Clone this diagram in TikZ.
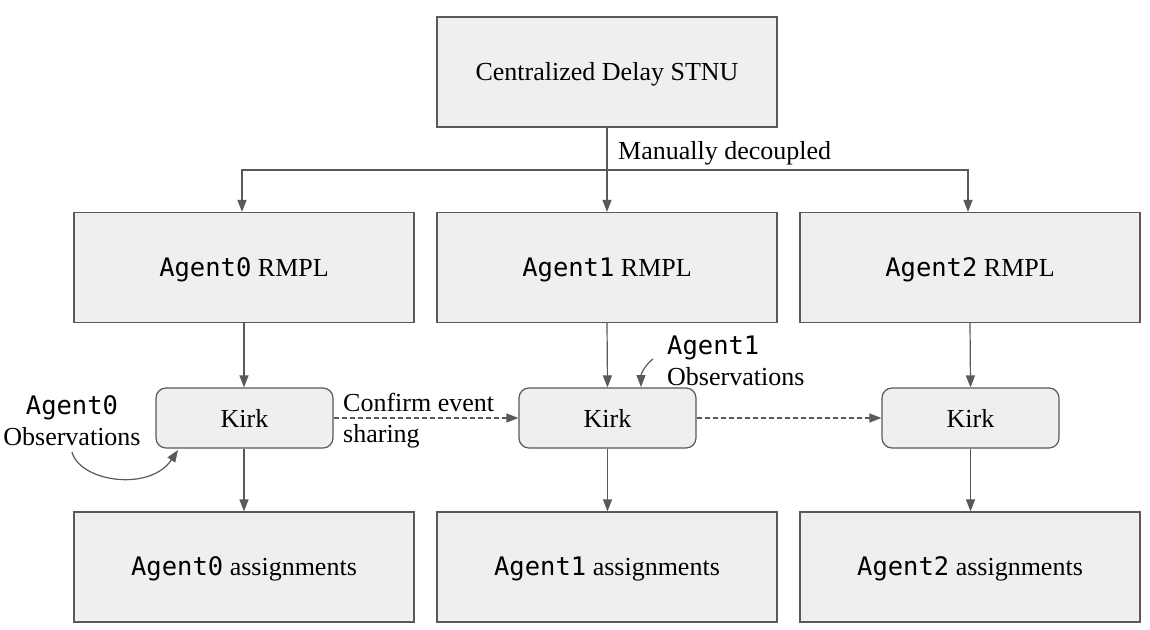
\documentclass[tikz,border=0pt]{standalone}
\usepackage{fontspec}
\setmainfont{Liberation Serif}
\setmonofont{DejaVu Sans Mono}
\usetikzlibrary{arrows.meta}
\definecolor{boxfill}{HTML}{EFEFEF}
\definecolor{linegray}{HTML}{595959}
\newcommand{\mono}[1]{{\fontsize{25.5}{31}\selectfont\ttfamily #1}}
\tikzset{
  bigbox/.style={draw=linegray, fill=boxfill, line width=1.2pt, minimum width=340pt, minimum height=110pt, inner sep=0pt, text height=21pt, text depth=4pt},
  kirkbox/.style={draw=linegray, fill=boxfill, line width=1.2pt, rounded corners=10pt, minimum width=177pt, minimum height=60pt, inner sep=0pt},
  conn/.style={draw=linegray, line width=1.2pt, -{Triangle[length=12pt,width=9pt]}},
  plainconn/.style={draw=linegray, line width=1.2pt},
  dashconn/.style={conn, dash pattern=on 5pt off 3pt},
  lbl/.style={inner sep=0pt, font=\fontsize{26}{31}\selectfont}
}
\begin{document}
\begin{tikzpicture}[x=1pt,y=-1pt, font=\fontsize{26}{31}\selectfont]
\useasboundingbox (0,0) rectangle (1150,629);
\fill[white] (0,0) rectangle (1150,629);
% boxes
\node[bigbox] (top) at (607,72) {Centralized Delay STNU};
\node[bigbox] (r0) at (244,267.5) {\mono{Agent0} RMPL};
\node[bigbox] (r1) at (607,267.5) {\mono{Agent1} RMPL};
\node[bigbox] (r2) at (970,267.5) {\mono{Agent2} RMPL};
\node[kirkbox] (k0) at (244.5,418) {Kirk};
\node[kirkbox] (k1) at (607.5,418) {Kirk};
\node[kirkbox] (k2) at (970.5,418) {Kirk};
\node[bigbox] (a0) at (244,567) {\mono{Agent0} assignments};
\node[bigbox] (a1) at (607,567) {\mono{Agent1} assignments};
\node[bigbox] (a2) at (970,567) {\mono{Agent2} assignments};
% decoupling
\coordinate (j) at (607,170);
\draw[plainconn] (top.south) -- (j);
\draw[conn] (j) -- (r1.north);
\draw[conn] (j) -| ([xshift=-2pt]r0.north);
\draw[conn] (j) -| ([xshift=-2pt]r2.north);
\node[lbl, anchor=west] (md) at (618,153) {Manually decoupled};
% rmpl -> kirk
\draw[conn] (r0.south) -- (k0.north -| r0.south);
\draw[conn] (r1.south) -- (k1.north);
\draw[conn] (r2.south) -- (k2.north);
% kirk -> assignments
\draw[conn] (k0.south -| a0.north) -- (a0.north);
\draw[conn] (k1.south) -- (k1.south |- a1.north);
\draw[conn] (k2.south) -- (k2.south |- a2.north);
% event sharing
\draw[dashconn] (k0.east) -- (k1.west);
\draw[dashconn] (k1.east) -- (k2.west);
\node[lbl, anchor=west, align=left] (ce) at (343,421) {Confirm event\\sharing};
% observations
\node[lbl, align=center] (o0) at (72,421) {\mono{Agent0}\\Observations};
\coordinate (o0s) at (72,452);
\draw[conn] (o0s) .. controls (80,482) and (150,492) .. (178,450);
\node[lbl, anchor=west, align=left] (o1) at (667,361) {\mono{Agent1}\\Observations};
\coordinate (o1s) at (653,359);
\draw[conn] (o1s) .. controls (645,365) and (641,374) .. (641,387);
\end{tikzpicture}
\end{document}
